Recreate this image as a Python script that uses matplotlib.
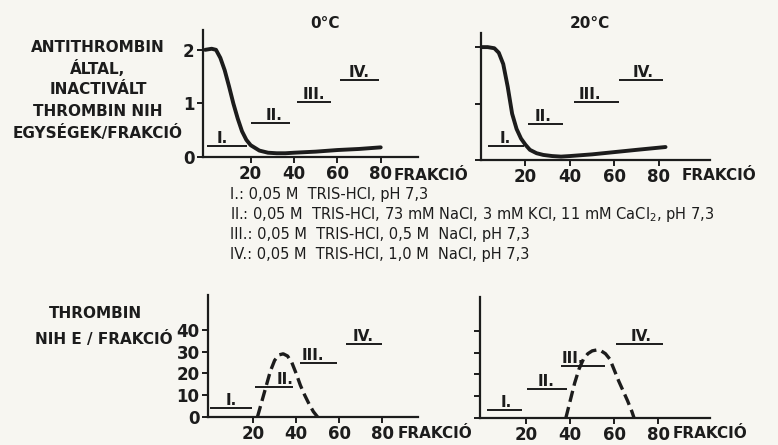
import matplotlib
matplotlib.use("Agg")
import matplotlib.pyplot as plt

# --- adat ---
frac_0c = [-1, 2, 4, 6, 8, 10, 12, 14, 16, 18, 20, 24, 28, 32, 36, 40, 50, 60, 70, 80]
act_0c = [2.0, 2.02, 2.0, 1.85, 1.62, 1.32, 1.0, 0.72, 0.48, 0.32, 0.22, 0.12, 0.08, 0.07, 0.07, 0.08, 0.1, 0.13, 0.15, 0.18]

frac_20c = [0, 3, 6, 8, 10, 12, 14, 16, 18, 20, 22, 25, 28, 32, 36, 40, 50, 60, 70, 83]
act_20c = [2.0, 2.0, 1.98, 1.9, 1.7, 1.3, 0.82, 0.55, 0.38, 0.27, 0.18, 0.12, 0.09, 0.07, 0.06, 0.07, 0.1, 0.14, 0.18, 0.23]

thr_frac_0c = [22, 24, 26, 28, 30, 32, 34, 36, 38, 40, 42, 44, 46, 48, 50]
thr_0c = [0, 7, 14, 21, 26, 28.5, 29, 28, 25, 20, 14.5, 10, 6, 2.5, 0]

thr_frac_20c = [38, 40, 42, 44, 46, 48, 50, 52, 54, 56, 58, 60, 62, 64, 66, 68, 69]
thr_20c = [0, 8, 16, 22.5, 27, 29.5, 30.8, 31.2, 30.8, 29.5, 27, 22, 17, 12.5, 8, 3, 0]

steps = ["I.", "II.", "III.", "IV."]
# (kezdet, vég, szint, felirat x)
steps_top_0c = [(0, 18.5, 0.2, 7), (20, 38, 0.64, 31), (41.5, 57, 1.03, 49), (61, 79, 1.44, 70)]
steps_top_20c = [(3, 19.5, 0.25, 11), (21, 37, 0.64, 28), (42, 62, 1.03, 49), (62, 82, 1.42, 73)]
steps_bot_0c = [(0, 19.5, 4, 10), (21, 38.5, 14, 35), (42, 59, 25, 48), (63, 80, 33.5, 71)]
steps_bot_20c = [(2, 18, 3.7, 11), (20.5, 38.5, 13.5, 29), (36, 56, 24, 41), (61, 82, 34, 72)]

buffers = [
    "I.: 0,05 M  TRIS-HCl, pH 7,3",
    "II.: 0,05 M  TRIS-HCl, 73 mM NaCl, 3 mM KCl, 11 mM CaCl$_2$, pH 7,3",
    "III.: 0,05 M  TRIS-HCl, 0,5 M  NaCl, pH 7,3",
    "IV.: 0,05 M  TRIS-HCl, 1,0 M  NaCl, pH 7,3",
]

ylabel_top = ["ANTITHROMBIN", "ÁLTAL,", "INACTIVÁLT", "THROMBIN NIH", "EGYSÉGEK/FRAKCIÓ"]

INK = "#1c1c1c"
W, H = 778, 445

plt.rcParams["font.family"] = ["DejaVu Sans"]
fig = plt.figure(figsize=(W / 100, H / 100), dpi=100, facecolor="#f7f6f1")


def px_axes(x0, y0, x1, y1, xlim, ylim):
    """Tengely pixel-koordinátákból (y felülről)."""
    ax = fig.add_axes([x0 / W, 1 - y1 / H, (x1 - x0) / W, (y1 - y0) / H])
    ax.set_facecolor("none")
    ax.set_xlim(*xlim)
    ax.set_ylim(*ylim)
    for s in ["top", "right"]:
        ax.spines[s].set_visible(False)
    for s in ["left", "bottom"]:
        ax.spines[s].set_linewidth(1.6)
        ax.spines[s].set_color(INK)
    ax.tick_params(direction="out", length=4, width=1.4, colors=INK,
                   labelsize=12, pad=2)
    ax.set_xticks([20, 40, 60, 80])
    for lab in ax.get_xticklabels():
        lab.set_fontweight("bold")
    return ax


def draw_steps(ax, st):
    for (a, b, lvl, lx), name in zip(st, steps):
        ax.plot([a, b], [lvl, lvl], color=INK, lw=1.4, solid_capstyle="butt")
        ax.text(lx, lvl, name, ha="center", va="bottom", fontsize=11,
                fontweight="bold", color=INK)


# felső bal: 0 °C
ax1 = px_axes(203, 30, 418, 157, (-2, 97.2), (0, 2.37))
ax1.set_yticks([0, 1, 2])
ax1.set_yticklabels(["0", "1", "2"], fontweight="bold")
ax1.plot(frac_0c, act_0c, color=INK, lw=2.8, solid_capstyle="round", solid_joinstyle="round")
draw_steps(ax1, steps_top_0c)

# felső jobb: 20 °C
ax2 = px_axes(481, 33, 710, 160, (0, 103), (0, 2.25))
ax2.set_yticks([0, 1, 2])
ax2.set_yticklabels([])
ax2.plot(frac_20c, act_20c, color=INK, lw=2.8, solid_capstyle="round", solid_joinstyle="round")
draw_steps(ax2, steps_top_20c)

# alsó bal
ax3 = px_axes(208, 295, 418, 417, (-1, 96.7), (0, 56))
ax3.set_yticks([0, 10, 20, 30, 40])
ax3.set_yticklabels(["0", "10", "20", "30", "40"], fontweight="bold")
ax3.plot(thr_frac_0c, thr_0c, color=INK, lw=2.4, ls=(0, (3.4, 1.6)))
draw_steps(ax3, steps_bot_0c)

# alsó jobb
ax4 = px_axes(480, 297, 710, 418, (-1, 103.5), (0, 55.5))
ax4.set_yticks([0, 10, 20, 30, 40])
ax4.set_yticklabels([])
ax4.plot(thr_frac_20c, thr_20c, color=INK, lw=2.4, ls=(0, (3.4, 1.6)))
draw_steps(ax4, steps_bot_20c)


def ftext(x, y, s, **kw):
    kw.setdefault("color", INK)
    kw.setdefault("fontweight", "bold")
    fig.text(x / W, 1 - y / H, s, **kw)


ftext(325, 23, "0°C", ha="center", va="center", fontsize=11)
ftext(590, 23, "20°C", ha="center", va="center", fontsize=11)

for i, line in enumerate(ylabel_top):
    ftext(98, 47 + i * 21.5, line, ha="center", va="center", fontsize=11)
ftext(95, 313, "THROMBIN", ha="center", va="center", fontsize=11)
ftext(104, 339, "NIH E / FRAKCIÓ", ha="center", va="center", fontsize=11)

for x, y in [(394, 175), (682, 175), (398, 434), (673, 434)]:
    ftext(x, y, "FRAKCIÓ", ha="left", va="center", fontsize=11)

for i, line in enumerate(buffers):
    ftext(230, 194 + i * 20, line, ha="left", va="center", fontsize=10.5, fontweight="normal")

fig.savefig("out.png", dpi=100, facecolor=fig.get_facecolor())
